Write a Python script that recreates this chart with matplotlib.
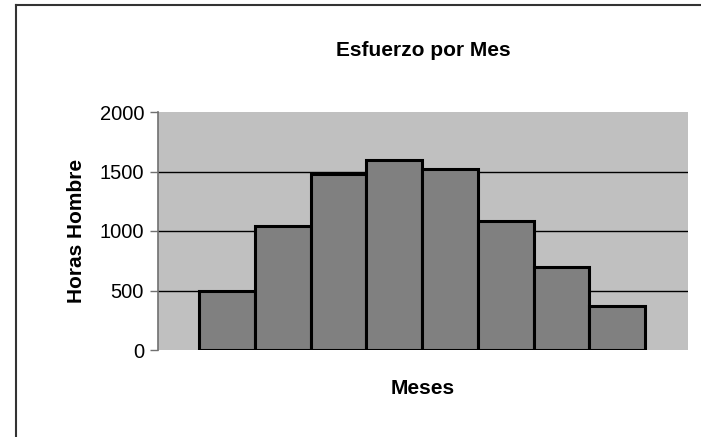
import matplotlib
matplotlib.use('Agg')
import matplotlib.pyplot as plt
from matplotlib.lines import Line2D

plt.rcParams['font.family'] = ['Liberation Sans', 'DejaVu Sans']

meses = ['1', '2', '3', '4', '5', '6', '7', '8']
horas = [500, 1040, 1480, 1600, 1520, 1080, 700, 370]

W, H = 701, 437
fig = plt.figure(figsize=(W / 100, H / 100), dpi=100)
fig.patch.set_facecolor('white')

# plot area in pixels: left 158, right 688, top 112, bottom 350
ax = fig.add_axes([158 / W, (H - 350) / H, 530 / W, 238 / H])
ax.set_facecolor('#c0c0c0')

x = list(range(len(meses)))
ax.bar(x, horas, width=1.0, color='#808080', edgecolor='black', linewidth=2.2, zorder=3)

ax.set_ylim(0, 2000)
ax.set_yticks([0, 500, 1000, 1500, 2000])
ax.set_xlim(-0.5 - 41 / 55.75, 7.5 + 43 / 55.75)
ax.set_xticks([])
for v in [500, 1000, 1500]:
    ax.axhline(v, color='black', linewidth=1.0, zorder=1)

for s in ['top', 'right', 'bottom']:
    ax.spines[s].set_visible(False)
ax.spines['left'].set_color('#707070')
ax.spines['left'].set_linewidth(1.2)
ax.tick_params(axis='y', direction='out', length=6, width=1.0, color='#707070',
               labelsize=14.5, pad=4)

ax.set_title('Esfuerzo por Mes', fontsize=15, fontweight='bold', pad=40)
ax.set_ylabel('Horas Hombre', fontsize=15, fontweight='bold', labelpad=10)
ax.set_xlabel('Meses', fontsize=15, fontweight='bold', labelpad=21)

# outer chart frame (top and left edges visible)
fig.add_artist(Line2D([16 / W, 1.0], [(H - 5) / H, (H - 5) / H], color='#333333',
                      linewidth=1.5, transform=fig.transFigure))
fig.add_artist(Line2D([16 / W, 16 / W], [0.0, (H - 5) / H], color='#333333',
                      linewidth=1.5, transform=fig.transFigure))

fig.savefig('out.png', dpi=100)
